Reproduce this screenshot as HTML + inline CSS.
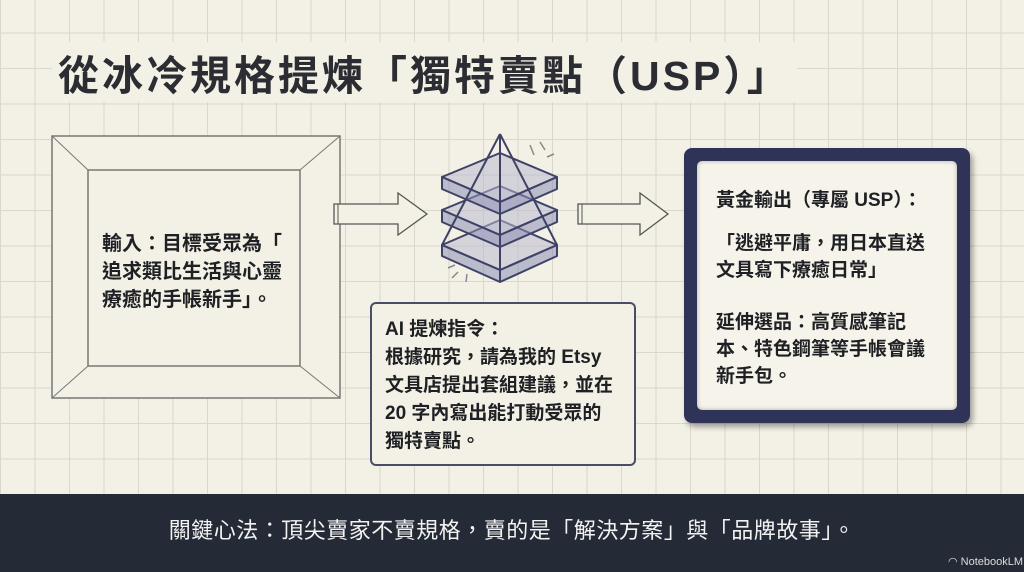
<!DOCTYPE html>
<html><head><meta charset="utf-8"><style>
*{margin:0;padding:0;box-sizing:border-box}
body{width:1024px;height:572px;overflow:hidden;position:relative;background:#f3f1e6;
background-image:linear-gradient(#d9d8cc 1px,transparent 1px),linear-gradient(90deg,#d9d8cc 1px,transparent 1px);
background-size:34.5px 35.5px;background-position:0px -3px;
font-family:"Liberation Sans","Noto Sans CJK TC",sans-serif;color:#1e2024;font-weight:bold}
.abs{position:absolute}
.t{white-space:nowrap}
</style></head><body>
<div class="abs t" style="left:52px;top:42px;font-size:41px;color:#2b2d33;background:#f3f1e6;padding:0 6px;letter-spacing:3px">從冰冷規格提煉「獨特賣點（USP）」</div>

<svg class="abs" style="left:0;top:0" width="1024" height="494">
 <rect x="52" y="136" width="288" height="262" fill="#f3f1e6" stroke="#777" stroke-width="1.5"/>
 <rect x="88" y="170" width="212" height="196" fill="#f3f1e6" stroke="#777" stroke-width="1.5"/>
 <line x1="52" y1="136" x2="88" y2="170" stroke="#777"/><line x1="340" y1="136" x2="300" y2="170" stroke="#777"/>
 <line x1="52" y1="398" x2="88" y2="366" stroke="#777"/><line x1="340" y1="398" x2="300" y2="366" stroke="#777"/>
 <g fill="#f3f1e6" stroke="#555" stroke-width="1.3">
  <path d="M334 204 H398 V193 L427 214 L398 235 V224 H334 Z"/>
  <path d="M578 204 H640 V193 L668 214 L640 235 V224 H578 Z"/>
 </g>
 <line x1="338" y1="204" x2="338" y2="224" stroke="#555"/><line x1="582" y1="204" x2="582" y2="224" stroke="#555"/>
 <g stroke="#3f4266" stroke-width="2" fill="#b9b9d0" fill-opacity="0.55" stroke-linejoin="round">
  <path d="M442 245 L500 220 L557 245 L500 270 Z"/>
  <path d="M442 245 V256 L500 282 V270 Z M557 245 V256 L500 282 V270Z" fill="#8d8fb4"/>
  <path d="M442 210 L500 186 L557 210 L500 235 Z"/>
  <path d="M442 210 V222 L500 247 V235 Z M557 210 V222 L500 247 V235Z" fill="#8d8fb4"/>
  <path d="M442 177 L500 153 L557 177 L500 202 Z"/>
  <path d="M442 177 V189 L500 214 V202 Z M557 177 V189 L500 214 V202Z" fill="#8d8fb4"/>
  <path d="M500 134 L442 245 M500 134 L557 245 M500 134 L500 280" fill="none"/>
 </g>
 <g stroke="#888" stroke-width="1.5">
  <line x1="530" y1="145" x2="534" y2="155"/><line x1="540" y1="142" x2="545" y2="150"/><line x1="547" y1="157" x2="554" y2="154"/>
  <line x1="455" y1="265" x2="448" y2="268"/><line x1="458" y1="272" x2="452" y2="278"/><line x1="467" y1="274" x2="466" y2="282"/>
 </g>
</svg>

<div class="abs t" style="left:102px;top:230px;font-size:20px;line-height:28px">輸入：目標受眾為「<br>追求類比生活與心靈<br>療癒的手帳新手」。</div>

<div class="abs" style="left:370px;top:302px;width:266px;height:164px;border:2px solid #4a4d66;border-radius:6px;background:#f3f1e6"></div>
<div class="abs t" style="left:385px;top:316px;font-size:19px;line-height:28px">AI 提煉指令：<br><span style="line-height:27px">根據研究，請為我的 Etsy<br>文具店提出套組建議，並在<br>20 字內寫出能打動受眾的<br>獨特賣點。</span></div>

<div class="abs" style="left:684px;top:148px;width:286px;height:275px;background:#2f3358;border-radius:8px;box-shadow:3px 4px 6px rgba(0,0,0,.35)"></div>
<div class="abs" style="left:697px;top:161px;width:260px;height:249px;background:#f5f3ea;border-radius:5px;box-shadow:inset 0 0 4px rgba(0,0,0,.3)"></div>
<div class="abs t" style="left:716px;top:187px;font-size:19px;line-height:27px">黃金輸出（專屬 USP）：<br><div style="height:16px"></div>「逃避平庸，用日本直送<br>文具寫下療癒日常」<br><div style="height:25px"></div>延伸選品：高質感筆記<br>本、特色鋼筆等手帳會議<br>新手包。</div>

<div class="abs" style="left:0;top:494px;width:1024px;height:78px;background:#252b36"></div>
<div class="abs t" style="left:0;width:1024px;top:513px;text-align:center;font-size:22px;color:#f2f2f2;font-weight:normal;letter-spacing:0.5px">關鍵心法：頂尖賣家不賣規格，賣的是「解決方案」與「品牌故事」。</div>
<div class="abs t" style="left:948px;top:555px;font-size:11px;color:#ddd;font-weight:normal">◠ NotebookLM</div>
</body></html>
